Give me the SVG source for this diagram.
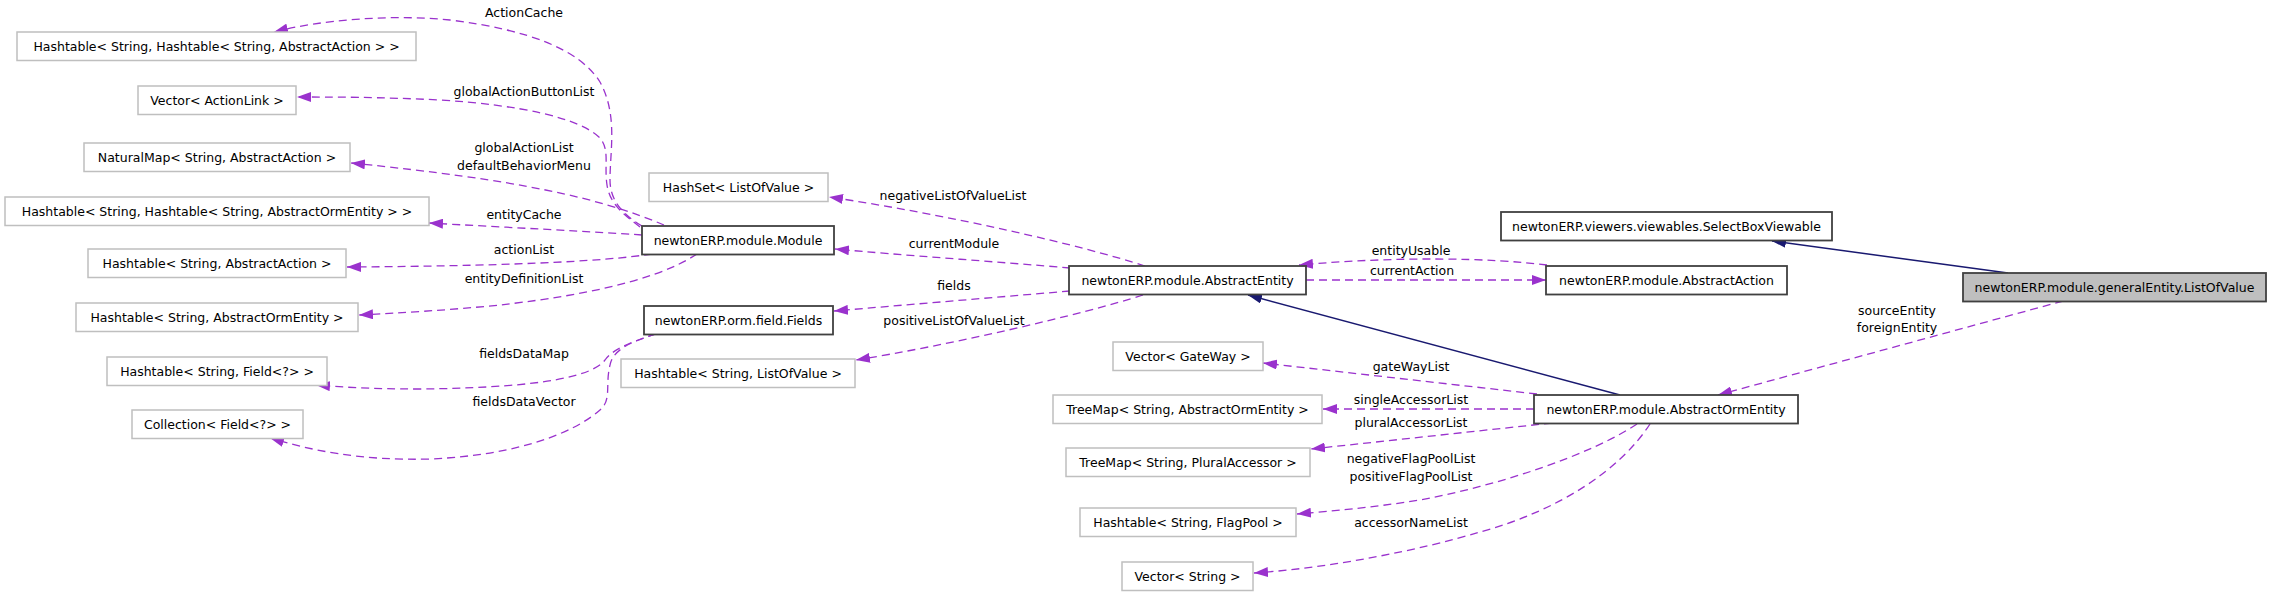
<svg xmlns="http://www.w3.org/2000/svg" width="2272" height="596" viewBox="0 0 2272 596">
<style>
text{font-family:"DejaVu Sans","Liberation Sans",sans-serif;font-size:12.5px;fill:#000;text-anchor:middle}
.m rect{fill:#fff;stroke:#bfbfbf;stroke-width:1.5}
.c rect{fill:#fff;stroke:#404040;stroke-width:1.8}
.sel rect{fill:#bfbfbf;stroke:#404040;stroke-width:1.8}
.u{fill:none;stroke:#9a32cd;stroke-width:1.3;stroke-dasharray:8,5;marker-end:url(#ap)}
.i{fill:none;stroke:#191970;stroke-width:1.5;marker-end:url(#ab)}
</style>
<defs>
<marker id="ap" markerUnits="userSpaceOnUse" markerWidth="14" markerHeight="10" refX="14" refY="5" orient="auto" viewBox="0 0 14 10"><path d="M0,0L14,5L0,10z" fill="#9a32cd"/></marker>
<marker id="ab" markerUnits="userSpaceOnUse" markerWidth="14" markerHeight="10" refX="14" refY="5" orient="auto" viewBox="0 0 14 10"><path d="M0,0L14,5L0,10z" fill="#191970"/></marker>
</defs>
<rect width="2272" height="596" fill="#fff"/>
<g id="connectors">
<path class="u" d="M642,226C622,214 610,200 610,180C610,150 618,115 600,82C580,50 530,30 450,20C390,14 320,20 274,32"/>
<path class="u" d="M640,227C625,215 610,205 607,185C604,165 610,150 600,138C580,118 520,105 440,100C380,97 330,97 297,97"/>
<path class="u" d="M664,225C600,198 520,180 351,163"/>
<path class="u" d="M642,235C600,232 500,227 429,223"/>
<path class="u" d="M652,254C600,262 500,266 347,267"/>
<path class="u" d="M697,254C650,285 560,298 500,305C450,310 400,313 359,315"/>
<path class="u" d="M656,334C630,342 612,350 605,360C590,380 520,388 420,389C370,389 340,387 316,385"/>
<path class="u" d="M656,334C630,342 613,350 610,365C605,385 612,400 600,410C575,432 520,455 430,459C360,461 310,450 270,438"/>
<path class="u" d="M1145,266C1080,245 950,215 829,197"/>
<path class="u" d="M1070,268C1000,262 900,255 835,249"/>
<path class="u" d="M1070,291L834,311"/>
<path class="u" d="M1143,295C1080,315 950,345 856,360"/>
<path class="i" d="M1620,395L1248,295"/>
<path class="u" d="M1547,265C1490,258 1400,256 1299,265"/>
<path class="u" d="M1306,280L1546,280"/>
<path class="i" d="M2008,273L1772,241"/>
<path class="u" d="M2063,301L1718,395"/>
<path class="u" d="M1537,394L1263,363"/>
<path class="u" d="M1534,409L1323,409"/>
<path class="u" d="M1552,423L1311,449"/>
<path class="u" d="M1637,424C1590,455 1500,485 1420,500C1370,508 1330,511 1297,514"/>
<path class="u" d="M1650,424C1620,470 1560,510 1480,532C1420,550 1330,568 1254,573"/>
<text x="524" y="17">ActionCache</text>
<text x="524" y="96">globalActionButtonList</text>
<text x="524" y="152">globalActionList</text>
<text x="524" y="170">defaultBehaviorMenu</text>
<text x="524" y="219">entityCache</text>
<text x="524" y="254">actionList</text>
<text x="524" y="283">entityDefinitionList</text>
<text x="524" y="358">fieldsDataMap</text>
<text x="524" y="406">fieldsDataVector</text>
<text x="953" y="200">negativeListOfValueList</text>
<text x="954" y="248">currentModule</text>
<text x="954" y="290">fields</text>
<text x="954" y="325">positiveListOfValueList</text>
<text x="1411" y="255">entityUsable</text>
<text x="1412" y="275">currentAction</text>
<text x="1411" y="371">gateWayList</text>
<text x="1411" y="404">singleAccessorList</text>
<text x="1411" y="427">pluralAccessorList</text>
<text x="1411" y="463">negativeFlagPoolList</text>
<text x="1411" y="481">positiveFlagPoolList</text>
<text x="1411" y="527">accessorNameList</text>
<text x="1897" y="315">sourceEntity</text>
<text x="1897" y="332">foreignEntity</text>
</g>
<g id="n_ht_ht_action" class="m"><rect x="17" y="32" width="399" height="28.5"/><text x="216.5" y="50.5">Hashtable&lt; String, Hashtable&lt; String, AbstractAction &gt; &gt;</text></g>
<g id="n_vec_actionlink" class="m"><rect x="138" y="86" width="158" height="28.5"/><text x="217" y="104.5">Vector&lt; ActionLink &gt;</text></g>
<g id="n_naturalmap" class="m"><rect x="84" y="143" width="266" height="28.5"/><text x="217" y="161.5">NaturalMap&lt; String, AbstractAction &gt;</text></g>
<g id="n_ht_ht_orm" class="m"><rect x="5" y="197" width="424" height="28.5"/><text x="217" y="215.5">Hashtable&lt; String, Hashtable&lt; String, AbstractOrmEntity &gt; &gt;</text></g>
<g id="n_ht_action" class="m"><rect x="88" y="249" width="258" height="28.5"/><text x="217" y="267.5">Hashtable&lt; String, AbstractAction &gt;</text></g>
<g id="n_ht_orm" class="m"><rect x="76" y="303" width="282" height="28.5"/><text x="217" y="321.5">Hashtable&lt; String, AbstractOrmEntity &gt;</text></g>
<g id="n_ht_field" class="m"><rect x="107" y="357" width="220" height="28.5"/><text x="217" y="375.5">Hashtable&lt; String, Field&lt;?&gt; &gt;</text></g>
<g id="n_coll_field" class="m"><rect x="132" y="410" width="171" height="28.5"/><text x="217.5" y="428.5">Collection&lt; Field&lt;?&gt; &gt;</text></g>
<g id="n_hashset_lov" class="m"><rect x="649" y="173" width="179" height="28.5"/><text x="738.5" y="191.5">HashSet&lt; ListOfValue &gt;</text></g>
<g id="n_ht_lov" class="m"><rect x="621" y="359" width="234" height="28.5"/><text x="738" y="377.5">Hashtable&lt; String, ListOfValue &gt;</text></g>
<g id="n_vec_gateway" class="m"><rect x="1113" y="342" width="150" height="28.5"/><text x="1188" y="360.5">Vector&lt; GateWay &gt;</text></g>
<g id="n_treemap_orm" class="m"><rect x="1053" y="395" width="269" height="28.5"/><text x="1187.5" y="413.5">TreeMap&lt; String, AbstractOrmEntity &gt;</text></g>
<g id="n_treemap_plural" class="m"><rect x="1066" y="448" width="244" height="28.5"/><text x="1188" y="466.5">TreeMap&lt; String, PluralAccessor &gt;</text></g>
<g id="n_ht_flagpool" class="m"><rect x="1080" y="508" width="216" height="28.5"/><text x="1188" y="526.5">Hashtable&lt; String, FlagPool &gt;</text></g>
<g id="n_vec_string" class="m"><rect x="1122" y="562" width="131" height="28.5"/><text x="1187.5" y="580.5">Vector&lt; String &gt;</text></g>
<g id="n_module" class="c"><rect x="642" y="226" width="192" height="28.5"/><text x="738" y="244.5">newtonERP.module.Module</text></g>
<g id="n_fields" class="c"><rect x="644" y="306" width="189" height="28.5"/><text x="738.5" y="324.5">newtonERP.orm.field.Fields</text></g>
<g id="n_abstractentity" class="c"><rect x="1069" y="266" width="237" height="28.5"/><text x="1187.5" y="284.5">newtonERP.module.AbstractEntity</text></g>
<g id="n_abstractaction" class="c"><rect x="1546" y="266" width="241" height="28.5"/><text x="1666.5" y="284.5">newtonERP.module.AbstractAction</text></g>
<g id="n_selectbox" class="c"><rect x="1501" y="212" width="331" height="28.5"/><text x="1666.5" y="230.5">newtonERP.viewers.viewables.SelectBoxViewable</text></g>
<g id="n_abstractorm" class="c"><rect x="1534" y="395" width="264" height="28.5"/><text x="1666" y="413.5">newtonERP.module.AbstractOrmEntity</text></g>
<g id="n_listofvalue" class="sel"><rect x="1963" y="273" width="303" height="28.5"/><text x="2114.5" y="291.5">newtonERP.module.generalEntity.ListOfValue</text></g>
</svg>
